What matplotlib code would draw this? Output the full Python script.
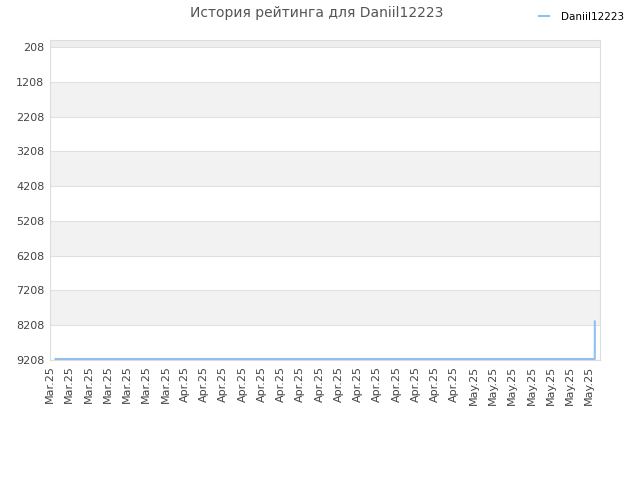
import matplotlib
matplotlib.use("Agg")
import matplotlib.pyplot as plt
import matplotlib.dates as mdates
from datetime import datetime, timedelta

# rating history (dates, rating)
dates = [datetime(2025, 3, 18, 14), datetime(2025, 4, 15, 14),
         datetime(2025, 5, 13, 14), datetime(2025, 5, 13, 14, 5)]
ratings = [9180, 9180, 9180, 8100]

yticks = [208, 1208, 2208, 3208, 4208, 5208, 6208, 7208, 8208, 9208]
tick_dates = [datetime(2025, 3, 18) + timedelta(days=2 * i) for i in range(29)]
tick_labels = [d.strftime("%b.%y") for d in tick_dates]

fig = plt.figure(figsize=(6.4, 4.8), dpi=100)
ax = fig.add_axes([0.078, 0.25, 0.8595, 0.6667])

xmin = mdates.date2num(datetime(2025, 3, 18))
xmax = mdates.date2num(datetime(2025, 5, 14, 3))
ax.set_xlim(xmin, xmax)
ax.set_ylim(9208, 6)

# alternating bands
ax.axhspan(6, 208, color="#eeeeee", zorder=0, lw=0)
for lo in yticks[1::2]:
    ax.axhspan(lo, lo + 1000, color="#f2f2f2", zorder=0, lw=0)
for y in yticks:
    ax.axhline(y, color="#e0e0e0", lw=0.8, zorder=1)

ax.plot(dates, ratings, color="#90bff0", lw=1.5, zorder=3, label="Daniil12223")

ax.set_yticks(yticks)
ax.set_yticklabels([str(v) for v in yticks], fontsize=8, color="#444444")
ax.set_xticks(mdates.date2num(tick_dates))
ax.set_xticklabels(tick_labels, rotation=90, fontsize=8, color="#444444")
ax.tick_params(length=0, pad=4)

for s in ax.spines.values():
    s.set_color("#dddddd")

fig.text(0.495, 0.972, "История рейтинга для Daniil12223", ha="center", va="center",
         fontsize=10, color="#555555")
fig.legend(loc="upper right", bbox_to_anchor=(0.99, 0.995), frameon=False,
           fontsize=7.5, handlelength=0.9, handletextpad=1.2)

fig.savefig("out.png", dpi=100)
